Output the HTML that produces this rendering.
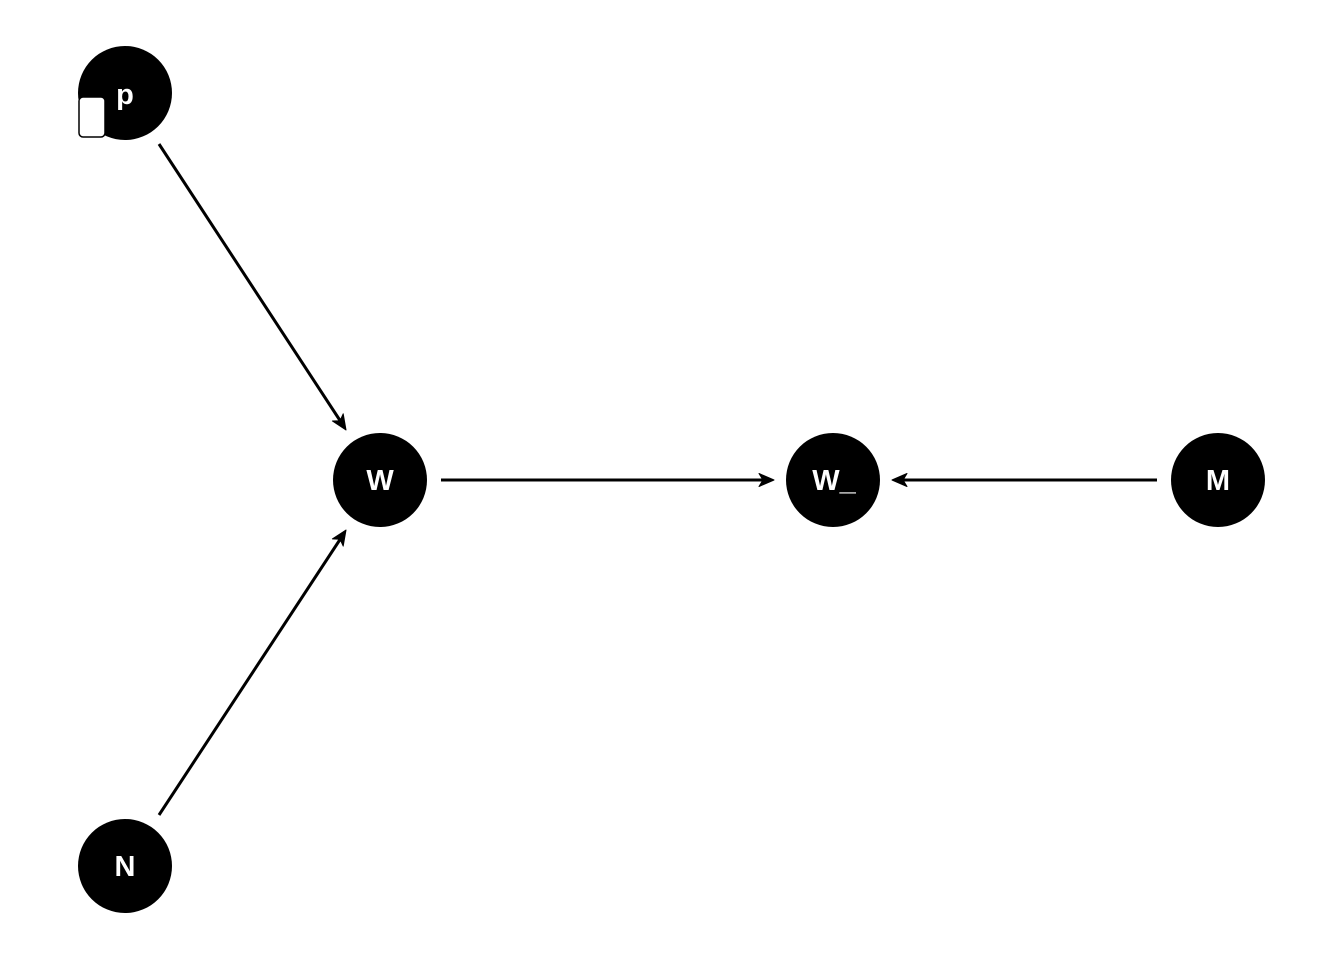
<!DOCTYPE html>
<html><head><style>
html,body{margin:0;padding:0;background:#fff;}
</style></head><body>
<svg width="1344" height="960" viewBox="0 0 1344 960" xmlns="http://www.w3.org/2000/svg">
<g stroke="#000" stroke-width="3" fill="none">
<line x1="159" y1="144" x2="341" y2="422"/>
<line x1="159" y1="815" x2="341" y2="538"/>
<line x1="441" y1="480" x2="765" y2="480"/>
<line x1="1157" y1="480" x2="901" y2="480"/>
</g>
<g fill="#000" stroke="#000" stroke-width="1" stroke-linejoin="round">
<polygon points="346,430 332.4,421 340,420.8 343.2,413.8"/>
<polygon points="346,530 343.2,546.1 340,539.2 332.4,538.9"/>
<polygon points="774,480 759,473.5 763,480 759,486.5"/>
<polygon points="892,480 907,473.5 903,480 907,486.5"/>
</g>
<g fill="#000">
<circle cx="125" cy="93" r="47"/>
<circle cx="380" cy="480" r="47"/>
<circle cx="833" cy="480" r="47"/>
<circle cx="1218" cy="480" r="47"/>
<circle cx="125" cy="866" r="47"/>
</g>
<rect x="79" y="97" width="26" height="40" rx="4" fill="#fff" stroke="#000" stroke-width="1.5"/>
<g font-family="Liberation Sans, Arial, sans-serif" font-weight="bold" font-size="29" fill="#fff" text-anchor="middle">
<text x="125" y="104">p</text>
<text x="380" y="490">W</text>
<text x="834" y="490">W_</text>
<text x="1218" y="490">M</text>
<text x="125" y="876">N</text>
</g>
</svg>
</body></html>
